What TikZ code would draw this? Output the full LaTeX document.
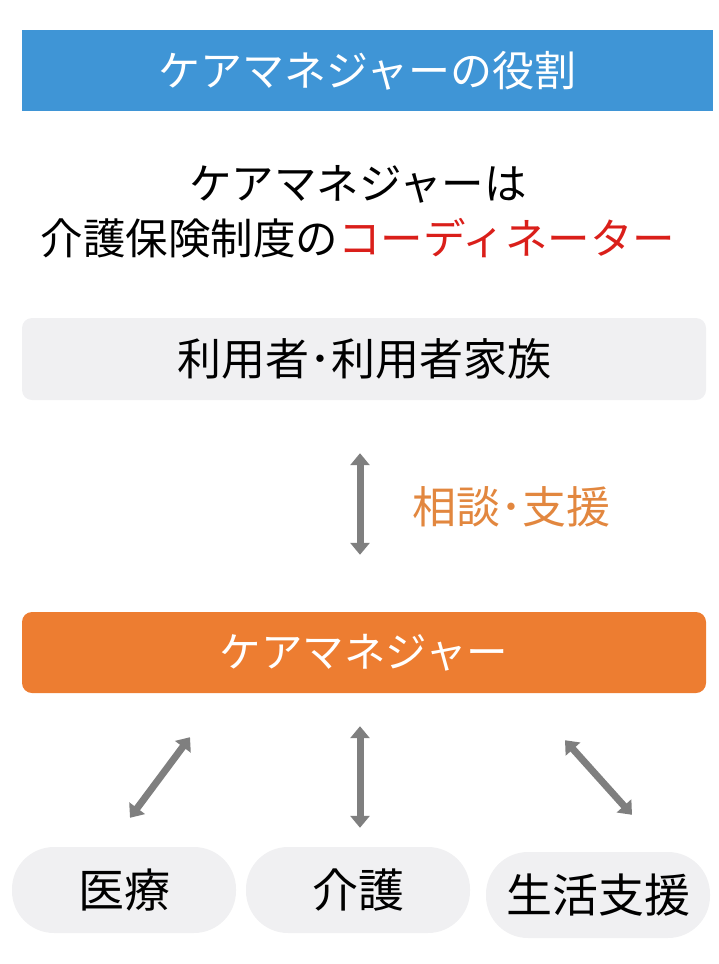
\documentclass[tikz,border=0pt]{standalone}
\usepackage{fontspec}
\setmainfont{Noto Sans CJK JP}
\usetikzlibrary{arrows.meta}
\definecolor{barblue}{HTML}{3F95D6}
\definecolor{cmorange}{HTML}{ED7D31}
\definecolor{talkorange}{HTML}{E2873F}
\definecolor{coordred}{HTML}{DA1F1A}
\definecolor{boxgray}{HTML}{F0F0F2}
\definecolor{linkgray}{HTML}{7F7F7F}
\tikzset{
    bigtext/.style={font=\fontsize{42.5}{55}\selectfont},
    plainbox/.style={rounded corners=10pt,minimum width=684pt,minimum height=82pt,inner sep=0pt},
    pill/.style={fill=boxgray,rounded corners=42pt,minimum width=224pt,minimum height=86pt,inner sep=0pt,font=\fontsize{46}{52}\selectfont},
    link/.style={linkgray,line width=7pt,{Triangle[length=12pt,width=19pt]}-{Triangle[length=12pt,width=19pt]}}
}
\begin{document}
\begin{tikzpicture}[x=1pt,y=-1pt]
    \useasboundingbox (0,0) rectangle (718,964);
    \node[fill=barblue,minimum width=691pt,minimum height=81pt,inner sep=0pt,text=white,font=\fontsize{42}{50}\selectfont] (title) at (367.5,70.5) {ケアマネジャーの役割};
    \node[bigtext,align=center] (lead) at (358,212) {ケアマネジャーは\\介護保険制度の\textcolor{coordred}{コーディネーター}};

    \node[plainbox,fill=boxgray,font=\fontsize{44}{50}\selectfont] (user) at (364,359) {利用者･利用者家族};
    \node[plainbox,fill=cmorange,minimum height=81pt,text=white,font=\fontsize{41.5}{48}\selectfont] (cm) at (364,652.5) {ケアマネジャー};
    \node[text=talkorange,font=\fontsize{44}{50}\selectfont] (talk) at (511,507) {相談･支援};
    \draw[link,shorten <=53pt,shorten >=57pt] ([xshift=-4pt]user.south) -- ([xshift=-4pt]cm.north);

    \node[pill] (med) at (124,890) {医療};
    \node[pill] (care) at (358,890) {介護};
    \node[pill] (life) at (598,895) {生活支援};

    \draw[link] ([shift={(-174pt,-44pt)}]cm.south) -- ([shift={(6pt,29pt)}]med.north);
    \draw[link] ([shift={(-4pt,-33pt)}]cm.south) -- ([shift={(2pt,19pt)}]care.north);
    \draw[link] ([shift={(201pt,-47pt)}]cm.south) -- ([shift={(34pt,37pt)}]life.north);
\end{tikzpicture}
\end{document}
